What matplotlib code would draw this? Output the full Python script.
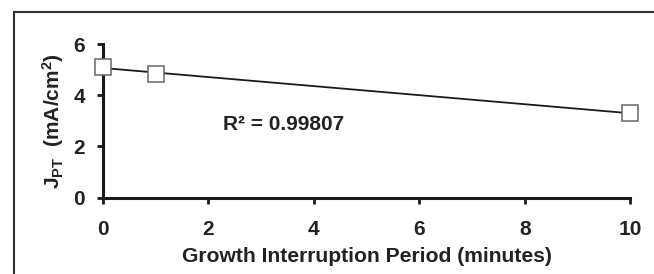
import numpy as np
import matplotlib.pyplot as plt
from matplotlib.lines import Line2D

plt.rcParams['font.family'] = 'Liberation Sans'
plt.rcParams['font.weight'] = 'bold'
plt.rcParams['mathtext.fontset'] = 'custom'
plt.rcParams['mathtext.rm'] = 'Liberation Sans:bold'
plt.rcParams['mathtext.it'] = 'Liberation Sans:bold'
plt.rcParams['mathtext.bf'] = 'Liberation Sans:bold'

period = [0, 1, 10]
jpt = [5.1, 4.85, 3.3]
r2_text = 'R² = 0.99807'

fig = plt.figure(figsize=(6.54, 2.74), dpi=100)
ax = fig.add_axes([0.1575, 0.279, 0.806, 0.560])

# linear trendline
k, b = np.polyfit(period, jpt, 1)
xs = np.array([0, 10])
ax.plot(xs, k * xs + b, color='#1a1a1a', lw=1.3, zorder=2)
ax.plot(period, jpt, ls='none', marker='s', ms=11, mfc='white',
        mec='#666666', mew=1.1, clip_on=False, zorder=3)

ax.text(2.27, 2.85, r2_text, fontsize=15, fontweight='bold', color='#222222',
        va='center')

ax.set_xlim(0, 10)
ax.set_ylim(0, 6)
ax.set_xticks([0, 2, 4, 6, 8, 10])
ax.set_yticks([0, 2, 4, 6])
for s in ['top', 'right']:
    ax.spines[s].set_visible(False)
for s in ['left', 'bottom']:
    ax.spines[s].set_linewidth(2.2)
    ax.spines[s].set_color('#1a1a1a')
ax.tick_params(axis='both', width=2, length=4, color='#1a1a1a',
               labelsize=15, labelcolor='#222222')
ax.tick_params(axis='x', pad=12)
ax.tick_params(axis='y', pad=9)
for lab in ax.get_xticklabels() + ax.get_yticklabels():
    lab.set_fontweight('bold')

ax.set_xlabel('Growth Interruption Period (minutes)', fontsize=15.2,
              fontweight='bold', color='#222222', labelpad=6)
ax.set_ylabel(r'$J_{PT}$  (mA/cm$^2$)', fontsize=15, fontweight='bold',
              color='#222222', labelpad=5)

# frame around the picture
fig.add_artist(Line2D([14/654, 14/654], [0, 1 - 12/274], color='#333333', lw=1.5))
fig.add_artist(Line2D([14/654, 1], [1 - 12/274, 1 - 12/274], color='#333333', lw=1.5))

fig.savefig('out.png', dpi=100)
